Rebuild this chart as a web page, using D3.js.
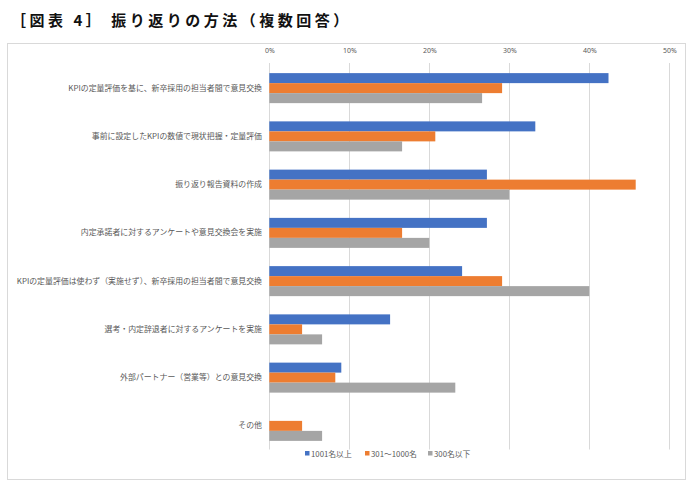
<!DOCTYPE html>
<html>
<head>
<meta charset="utf-8">
<script src="https://cdn.jsdelivr.net/npm/d3@7"></script>
<style>
  html, body { margin: 0; padding: 0; background: #fff; }
  svg { display: block; }
</style>
</head>
<body>
<script>
const title = "［図表 4］ 振り返りの方法（複数回答）";
const categories = [
  "KPIの定量評価を基に、新卒採用の担当者間で意見交換",
  "事前に設定したKPIの数値で現状把握・定量評価",
  "振り返り報告資料の作成",
  "内定承諾者に対するアンケートや意見交換会を実施",
  "KPIの定量評価は使わず（実施せず）、新卒採用の担当者間で意見交換",
  "選考・内定辞退者に対するアンケートを実施",
  "外部パートナー（営業等）との意見交換",
  "その他"
];
const seriesNames = ["1001名以上", "301～1000名", "300名以下"];
const s1001 = [0.424, 0.3325, 0.272, 0.272, 0.241, 0.151, 0.090, 0.0];
const s301  = [0.291, 0.2075, 0.458, 0.166, 0.291, 0.041, 0.0825, 0.041];
const s300  = [0.266, 0.166, 0.300, 0.200, 0.400, 0.066, 0.2325, 0.066];
const tickValues = [0, 0.1, 0.2, 0.3, 0.4, 0.5];
const colors = ["#4472C4", "#ED7D31", "#A5A5A5"];

const W = 694, H = 487;
const svg = d3.select("body").append("svg").attr("width", W).attr("height", H);

const series = [s1001, s301, s300];

// title
svg.append("text")
  .attr("x", 11).attr("y", 26)
  .attr("font-family", "'Noto Sans CJK JP', sans-serif")
  .attr("font-size", 15).attr("font-weight", "bold")
  .attr("letter-spacing", "3.5px")
  .attr("fill", "#111")
  .text(title);

// chart border
svg.append("rect")
  .attr("x", 7.5).attr("y", 43.5).attr("width", 678).attr("height", 436)
  .attr("fill", "#fff").attr("stroke", "#d9d9d9").attr("stroke-width", 1);

const x = d3.scaleLinear().domain([0, 0.5]).range([269.3, 669.3]);
const y = d3.scaleBand().domain(categories).range([64, 450]).paddingInner(0.378).paddingOuter(0.189);
const ySub = d3.scaleBand().domain(d3.range(3)).range([0, y.bandwidth()]);

// gridlines
svg.append("g").selectAll("line").data(tickValues).join("line")
  .attr("x1", d => Math.round(x(d)) + 0.5).attr("x2", d => Math.round(x(d)) + 0.5)
  .attr("y1", 63).attr("y2", 449.5)
  .attr("stroke", "#d9d9d9").attr("stroke-width", 1);

// top axis labels
const xAxis = d3.axisTop(x).tickValues(tickValues).tickFormat(d3.format(".0%")).tickSize(0);
const gx = svg.append("g").attr("transform", "translate(0,56)").call(xAxis);
gx.select(".domain").remove();
gx.selectAll("text")
  .attr("font-family", "'Noto Sans', sans-serif").attr("font-size", 7)
  .attr("fill", "#595959");

// category labels
const yAxis = d3.axisLeft(y).tickSize(0).tickPadding(0);
const gy = svg.append("g").attr("transform", "translate(262,0)").call(yAxis);
gy.select(".domain").remove();
gy.selectAll("text")
  .attr("font-family", "'Noto Sans CJK JP', sans-serif").attr("font-size", 7.9)
  .attr("fill", "#595959");

// bars
series.forEach((vals, si) => {
  svg.append("g").selectAll("rect").data(vals).join("rect")
    .attr("x", x(0))
    .attr("y", (d, i) => y(categories[i]) + ySub(si))
    .attr("width", d => x(d) - x(0))
    .attr("height", ySub.bandwidth())
    .attr("fill", colors[si]);
});

// legend
const legendX = [305, 365, 428];
const lg = svg.append("g");
seriesNames.forEach((name, i) => {
  lg.append("rect").attr("x", legendX[i]).attr("y", 451).attr("width", 4.5).attr("height", 4.5).attr("fill", colors[i]);
  lg.append("text").attr("x", legendX[i] + 6).attr("y", 456.5)
    .attr("font-family", "'Noto Sans CJK JP', sans-serif").attr("font-size", 7.8)
    .attr("fill", "#595959").text(name);
});
</script>
</body>
</html>
